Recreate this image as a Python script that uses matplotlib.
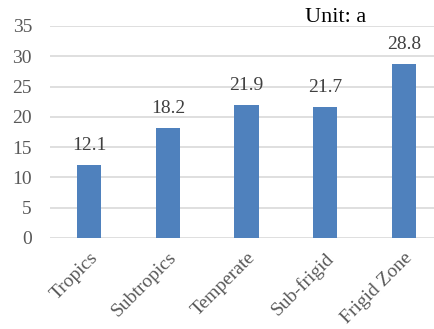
import matplotlib
matplotlib.use("Agg")
import matplotlib.pyplot as plt

zones = ["Tropics", "Subtropics", "Temperate", "Sub-frigid", "Frigid Zone"]
years = [12.1, 18.2, 21.9, 21.7, 28.8]
yticks = [0, 5, 10, 15, 20, 25, 30, 35]

plt.rcParams["font.family"] = ["Liberation Serif", "DejaVu Serif"]

fig = plt.figure(figsize=(4.35, 3.29), dpi=100)
ax = fig.add_axes([50 / 435, 1 - 238 / 329, 393 / 435, (238 - 26) / 329])

x = range(len(zones))
bars = ax.bar(x, years, width=0.31, color="#4F81BD", zorder=3)
for xi, v in zip(x, years):
    ax.text(xi, v + 1.8, f"{v}", ha="center", va="bottom", fontsize=14, color="#404040")

ax.set_xlim(-0.5, len(zones) - 0.5)
ax.set_ylim(0, 35)
ax.set_yticks(yticks)
ax.set_yticklabels([str(t) for t in yticks], fontsize=14, color="#595959")
ax.set_xticks(list(x))
ax.set_xticklabels(zones, rotation=45, ha="right", rotation_mode="anchor",
                   fontsize=14, color="#595959")
ax.tick_params(axis="both", length=0)
ax.tick_params(axis="y", pad=13)
ax.tick_params(axis="x", pad=8)
ax.grid(axis="y", color="#D9D9D9", lw=1.2, zorder=0)
for s in ax.spines.values():
    s.set_visible(False)

fig.text(336 / 435, 1 - 18 / 329, "Unit: a", ha="center", va="center", fontsize=16, color="black")

fig.savefig("out.png", dpi=100)
